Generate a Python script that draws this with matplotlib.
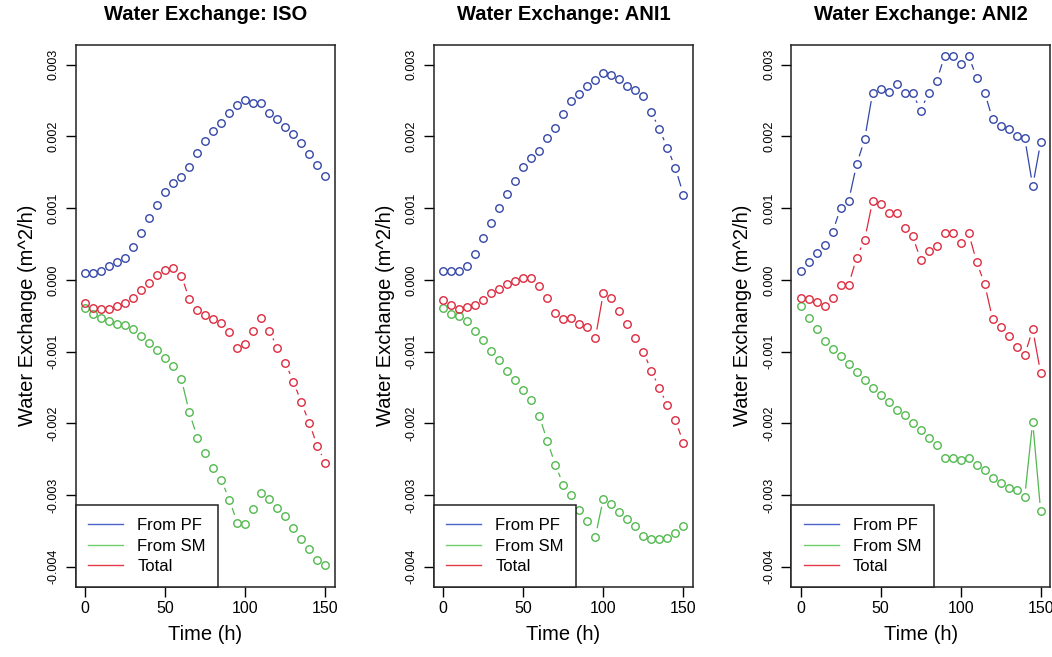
import numpy as np
import matplotlib
matplotlib.use("Agg")
import matplotlib.pyplot as plt
from matplotlib.collections import LineCollection
from matplotlib.lines import Line2D

time_h = list(range(0, 151, 5))

titles = ["Water Exchange: ISO", "Water Exchange: ANI1", "Water Exchange: ANI2"]

iso_pf = [0.00009, 0.00009, 0.00013, 0.00019, 0.00025, 0.00031, 0.00046, 0.00065, 0.00086, 0.00105,
          0.00122, 0.00135, 0.00144, 0.00158, 0.00177, 0.00194, 0.00207, 0.00219, 0.00233, 0.00244,
          0.00251, 0.00247, 0.00246, 0.00233, 0.00224, 0.00213, 0.00203, 0.00191, 0.00175, 0.00160, 0.00145]
iso_sm = [-0.00039, -0.00048, -0.00053, -0.00057, -0.00061, -0.00063, -0.00069, -0.00079, -0.00088, -0.00098,
          -0.00109, -0.00120, -0.00138, -0.00185, -0.00220, -0.00242, -0.00262, -0.00279, -0.00307, -0.00339,
          -0.00341, -0.00319, -0.00298, -0.00305, -0.00318, -0.00330, -0.00346, -0.00361, -0.00376, -0.00391, -0.00398]
iso_tot = [-0.00032, -0.00039, -0.00041, -0.00041, -0.00037, -0.00032, -0.00025, -0.00014, -0.00004, 0.00007,
           0.00014, 0.00016, 0.00006, -0.00027, -0.00042, -0.00049, -0.00055, -0.00060, -0.00073, -0.00095,
           -0.00090, -0.00071, -0.00053, -0.00071, -0.00095, -0.00116, -0.00142, -0.00171, -0.00200, -0.00232, -0.00255]

ani1_pf = [0.00013, 0.00013, 0.00013, 0.00019, 0.00036, 0.00058, 0.00079, 0.00100, 0.00120, 0.00138,
           0.00158, 0.00170, 0.00180, 0.00198, 0.00212, 0.00231, 0.00249, 0.00259, 0.00271, 0.00279,
           0.00289, 0.00286, 0.00280, 0.00271, 0.00265, 0.00256, 0.00234, 0.00210, 0.00184, 0.00156, 0.00119]
ani1_sm = [-0.00039, -0.00048, -0.00051, -0.00057, -0.00071, -0.00084, -0.00099, -0.00112, -0.00127, -0.00139,
           -0.00154, -0.00168, -0.00190, -0.00225, -0.00258, -0.00286, -0.00300, -0.00321, -0.00337, -0.00358,
           -0.00305, -0.00312, -0.00324, -0.00333, -0.00344, -0.00357, -0.00362, -0.00362, -0.00360, -0.00353, -0.00344]
ani1_tot = [-0.00028, -0.00035, -0.00040, -0.00038, -0.00035, -0.00028, -0.00019, -0.00013, -0.00006, -0.00002,
            0.00002, 0.00002, -0.00009, -0.00026, -0.00046, -0.00055, -0.00053, -0.00061, -0.00066, -0.00081,
            -0.00018, -0.00026, -0.00044, -0.00061, -0.00081, -0.00100, -0.00127, -0.00151, -0.00175, -0.00196, -0.00227]

ani2_pf = [0.00013, 0.00025, 0.00037, 0.00049, 0.00067, 0.00100, 0.00110, 0.00161, 0.00196, 0.00261,
           0.00266, 0.00262, 0.00273, 0.00261, 0.00261, 0.00236, 0.00261, 0.00278, 0.00312, 0.00312,
           0.00301, 0.00312, 0.00282, 0.00261, 0.00224, 0.00215, 0.00210, 0.00200, 0.00198, 0.00131, 0.00192]
ani2_sm = [-0.00037, -0.00053, -0.00068, -0.00085, -0.00096, -0.00106, -0.00117, -0.00129, -0.00139, -0.00151,
           -0.00161, -0.00171, -0.00181, -0.00189, -0.00200, -0.00209, -0.00221, -0.00230, -0.00248, -0.00248,
           -0.00251, -0.00248, -0.00258, -0.00265, -0.00277, -0.00283, -0.00290, -0.00293, -0.00303, -0.00198, -0.00323]
ani2_tot = [-0.00025, -0.00027, -0.00031, -0.00037, -0.00026, -0.00007, -0.00007, 0.00031, 0.00056, 0.00110,
            0.00106, 0.00093, 0.00093, 0.00072, 0.00061, 0.00028, 0.00040, 0.00047, 0.00065, 0.00065,
            0.00051, 0.00065, 0.00025, -0.00006, -0.00055, -0.00066, -0.00078, -0.00093, -0.00105, -0.00069, -0.00130]

panels = [(iso_pf, iso_sm, iso_tot), (ani1_pf, ani1_sm, ani1_tot), (ani2_pf, ani2_sm, ani2_tot)]

series_names = ["From PF", "From SM", "Total"]
series_colors = ["#3346a6", "#52b84f", "#dc2a3e"]
legend_colors = ["#4d63c8", "#6fcf6a", "#e33a4b"]

y_ticks = [-0.004, -0.003, -0.002, -0.001, 0.000, 0.001, 0.002, 0.003]
y_tick_labels = ["-0.004", "-0.003", "-0.002", "-0.001", "0.000", "0.001", "0.002", "0.003"]
x_ticks = [0, 50, 100, 150]
x_tick_labels = ["0", "50", "100", "150"]

W, H = 1052, 657
DPI = 100
fig = plt.figure(figsize=(W / DPI, H / DPI), dpi=DPI)
fig.patch.set_facecolor("white")

narrow = ["Liberation Sans Narrow", "Liberation Sans", "DejaVu Sans"]
sans = ["Liberation Sans", "DejaVu Sans"]

lefts_px = [75.7, 433.7, 791.0]
top_px, bot_px = 44.7, 586.7
width_px = 259.3


def gapped(ax, x, y, color, gap_px=8.5):
    trans = ax.transData
    pts = trans.transform(np.column_stack([x, y]))
    segs = []
    for p0, p1 in zip(pts[:-1], pts[1:]):
        d = p1 - p0
        L = np.hypot(d[0], d[1])
        if L > 2 * gap_px + 0.8:
            u = d / L
            segs.append(np.array([p0 + u * gap_px, p1 - u * gap_px]))
    inv = trans.inverted()
    segs_data = [inv.transform(s) for s in segs]
    ax.add_collection(LineCollection(segs_data, colors=color, linewidths=0.9))
    ax.plot(x, y, linestyle="none", marker="o", mfc="none", mec=color, ms=5.4, mew=1.0)


title_y = 1 + (top_px - 14) / (bot_px - top_px)

for i, (title, data) in enumerate(zip(titles, panels)):
    ax = fig.add_axes([lefts_px[i] / W, 1 - bot_px / H, width_px / W, (bot_px - top_px) / H])
    ax.set_xlim(-6, 156)
    ax.set_ylim(-0.00428, 0.00328)
    for vals, col in zip(data, series_colors):
        gapped(ax, time_h, vals, col)

    ax.set_xticks(x_ticks)
    ax.set_xticklabels(x_tick_labels, family=narrow, fontsize=11.5)
    ax.set_yticks(y_ticks)
    ax.set_yticklabels(y_tick_labels, family=narrow, fontsize=9, rotation=90, va="center")
    ax.tick_params(axis="both", direction="out", length=7.5, width=1.0, color="black")
    ax.tick_params(axis="x", pad=3)
    ax.tick_params(axis="y", pad=4)
    for sp in ax.spines.values():
        sp.set_linewidth(1.1)
        sp.set_color("#222222")

    ax.set_title(title, family=sans, fontsize=14.5, fontweight="bold", y=title_y, pad=0, va="center")

    ax.set_xlabel("Time (h)", family=sans, fontsize=14.5, labelpad=6)
    ax.set_ylabel("Water Exchange (m^2/h)", family=sans, fontsize=14.5, labelpad=8)

    handles = [Line2D([0], [0], color=c, lw=1.0) for c in legend_colors]
    leg = ax.legend(handles, series_names, loc="lower left", bbox_to_anchor=(0, 0),
                    borderaxespad=0, fancybox=False, framealpha=1, edgecolor="#222222",
                    prop={"family": sans, "size": 12}, handlelength=2.1, handletextpad=0.85,
                    labelspacing=0.34, borderpad=0.75)
    leg.get_frame().set_linewidth(1.1)

fig.savefig("out.png", dpi=DPI, facecolor="white")
